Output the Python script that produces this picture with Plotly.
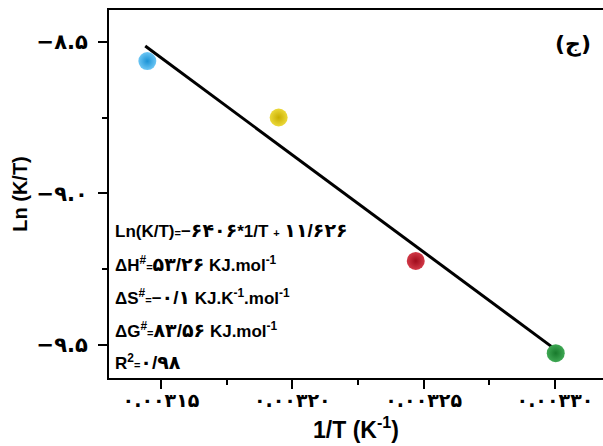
import re
import plotly.graph_objects as go

# ---- data ----
inv_T = [0.0031448, 0.0031948, 0.003247, 0.0033003]
ln_KT = [-8.564, -8.750, -9.223, -9.527]
point_colors_center = ["#6cc6f4", "#ecd93a", "#d23a48", "#3fa854"]
point_colors_edge = ["#1b93d6", "#c8ae00", "#a00c1c", "#187a2c"]

fit_slope = -6406.0
fit_intercept = 11.626
fit_x = [0.003144, 0.0033]

x_tickvals = [0.00315, 0.00320, 0.00325, 0.00330]
x_ticktext = ["۰.۰۰۳۱۵", "۰.۰۰۳۲۰", "۰.۰۰۳۲۵", "۰.۰۰۳۳۰"]
x_minor = [0.003175, 0.003225, 0.003275, 0.003325]
y_tickvals = [-8.5, -9.0, -9.5]
y_ticktext = ["−۸.۵", "−۹.۰", "−۹.۵"]
y_minor = [-8.75, -9.25]

info_lines = [
    "Ln(K/T)<span style='font-size:11px'>=</span>−۶۴۰۶*1/T <span style='font-size:11px'>+</span> ۱۱/۶۲۶",
    "ΔH<sup>#</sup><span style='font-size:11px'>=</span>۵۳/۲۶ KJ.mol<sup>-1</sup>",
    "ΔS<sup>#</sup><span style='font-size:11px'>=</span>−۰/۱ KJ.K<sup>-1</sup>.mol<sup>-1</sup>",
    "ΔG<sup>#</sup><span style='font-size:11px'>=</span>۸۳/۵۶ KJ.mol<sup>-1</sup>",
    "R<sup>2</sup><span style='font-size:11px'>=</span>۰/۹۸",
]
panel_label = "(ج)"


def big_digits(s, size=19):
    return re.sub(r"([۰-۹][۰-۹/]*)",
                  lambda m: "<span style='font-size:%dpx'>%s</span>" % (size, m.group(1)), s)


# ---- figure ----
fit_y = [fit_slope * x + fit_intercept for x in fit_x]

fig = go.Figure()
fig.add_trace(go.Scatter(x=fit_x, y=fit_y, mode="lines",
                         line=dict(color="black", width=3), showlegend=False,
                         hoverinfo="skip"))
fig.add_trace(go.Scatter(
    x=inv_T, y=ln_KT, mode="markers", showlegend=False,
    marker=dict(size=18, color=point_colors_center,
                gradient=dict(type="radial", color=point_colors_edge),
                line=dict(width=0))))

W, H = 603, 446
ml, mr, mt, mb = 109, 0, 10, 68
ph = H - mt - mb

font_family = "Arial, Liberation Sans, DejaVu Sans, sans-serif"

line_y_px = [231, 264, 297, 330, 362]
for txt, ypx in zip(info_lines, line_y_px):
    fig.add_annotation(x=0.008, y=1 - (ypx - mt) / ph, xref="paper", yref="paper",
                       xanchor="left", yanchor="middle", showarrow=False,
                       text="<b>" + big_digits(txt) + "</b>",
                       font=dict(family=font_family, size=17, color="black"))

fig.add_annotation(x=0.98, y=1 - (44 - mt) / ph, xref="paper", yref="paper",
                   xanchor="right", yanchor="middle", showarrow=False,
                   text="<b>" + panel_label + "</b>",
                   font=dict(family="DejaVu Sans", size=22, color="black"))

fig.update_layout(
    width=W, height=H, margin=dict(l=ml, r=mr, t=mt, b=mb),
    paper_bgcolor="white", plot_bgcolor="white",
    font=dict(family=font_family, color="black"),
    xaxis=dict(range=[0.0031302, 0.0033183], showgrid=False, zeroline=False,
               showline=True, linecolor="black", linewidth=2, mirror=True,
               ticks="outside", ticklen=9, tickwidth=2, tickcolor="black",
               tickmode="array", tickvals=x_tickvals, ticktext=x_ticktext,
               tickfont=dict(size=19, family="DejaVu Sans", weight="bold"),
               ticklabelstandoff=-5,
               minor=dict(tickvals=x_minor, ticks="outside", ticklen=5, tickwidth=2,
                          tickcolor="black", showgrid=False),
               title=dict(text="<b>1/T (K<sup>-1</sup>)</b>", standoff=12,
                          font=dict(size=23, family=font_family))),
    yaxis=dict(range=[-9.609, -8.3955], showgrid=False, zeroline=False,
               showline=True, linecolor="black", linewidth=2, mirror=False,
               ticks="outside", ticklen=9, tickwidth=2, tickcolor="black",
               tickmode="array", tickvals=y_tickvals, ticktext=y_ticktext,
               tickfont=dict(size=21, family="DejaVu Sans", weight="bold"),
               ticklabelstandoff=6,
               minor=dict(tickvals=y_minor, ticks="outside", ticklen=5, tickwidth=2,
                          tickcolor="black", showgrid=False),
               title=dict(text="<b>Ln (K/T)</b>", standoff=4,
                          font=dict(size=20, family=font_family))),
)

fig.write_html("out.html")
